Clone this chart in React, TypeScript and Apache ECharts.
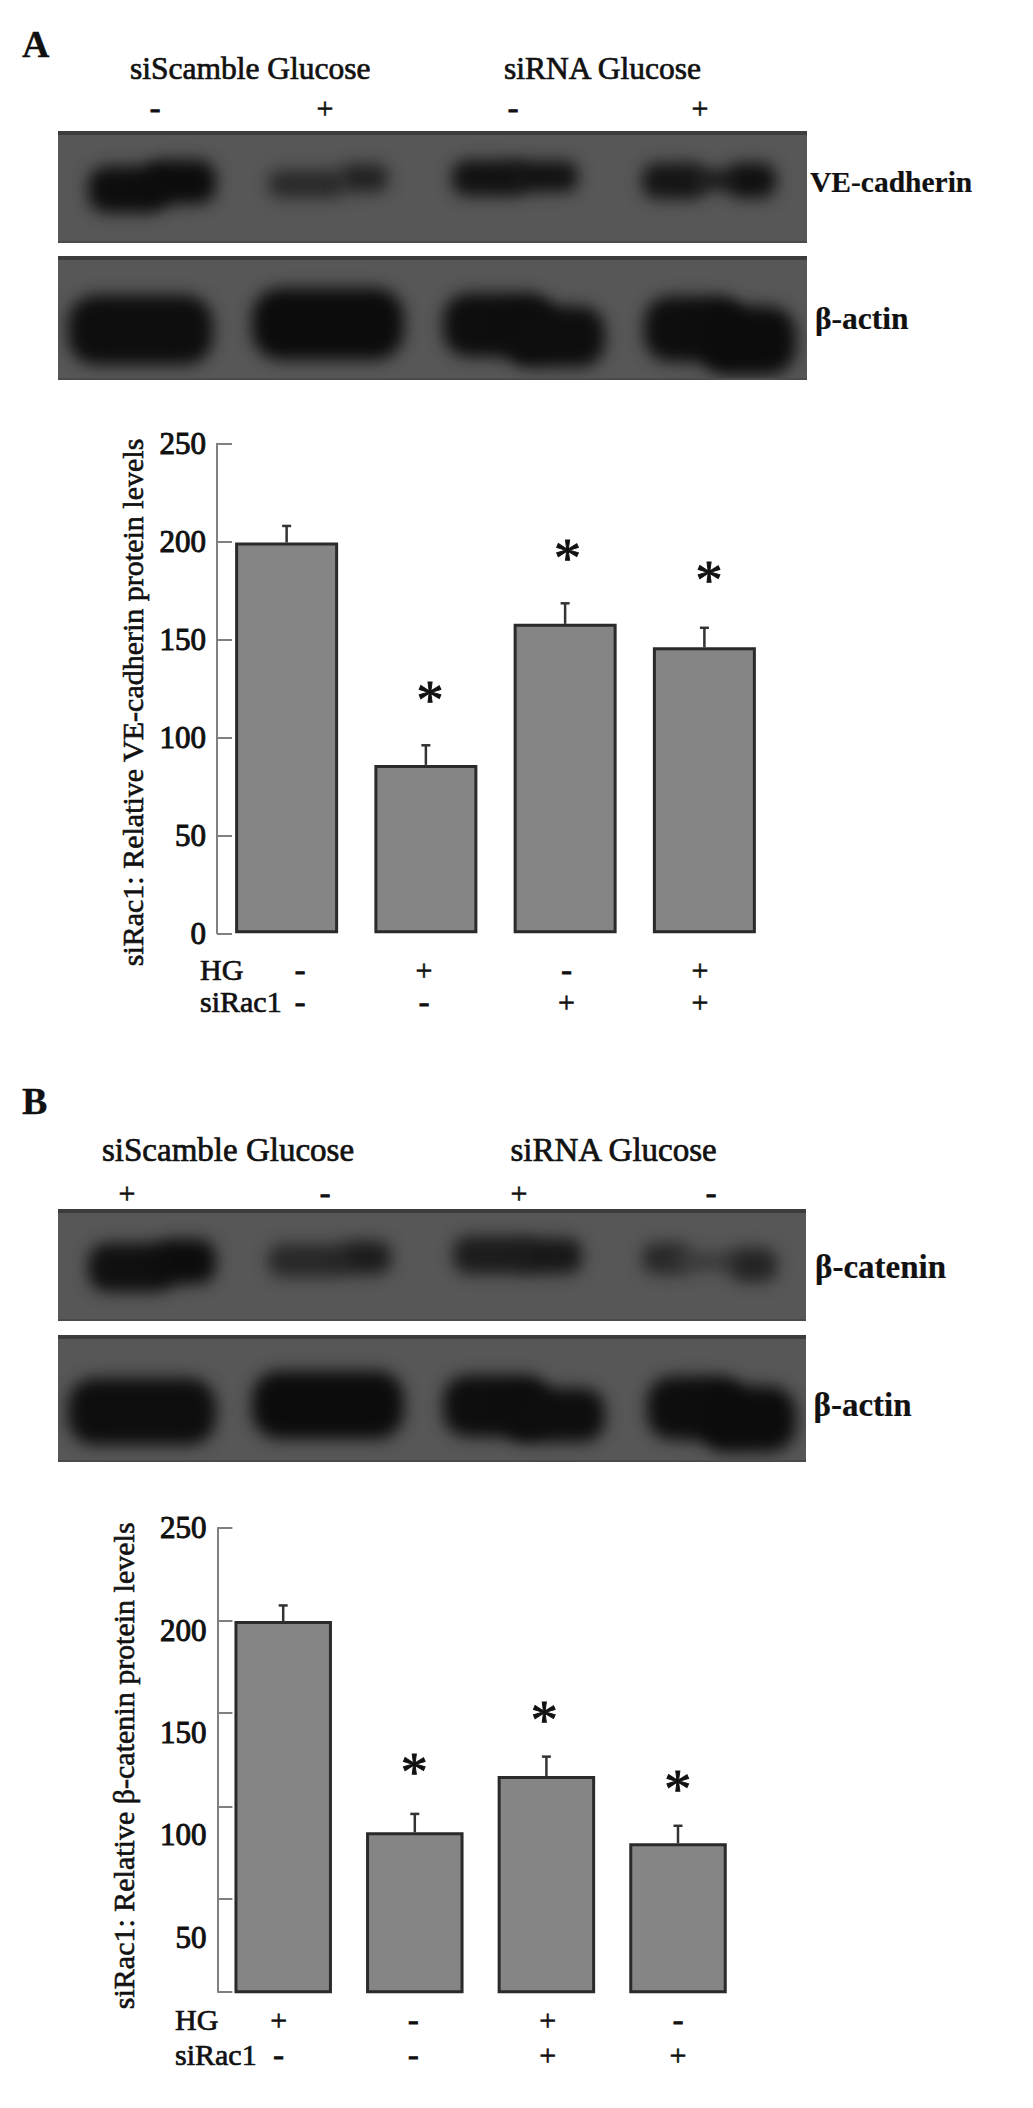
import React, { useEffect, useRef } from "react";
import * as echarts from "echarts";

const SERIF = "'Liberation Serif', serif";

// Panel A values
const categoriesA = ["HG- siRac1-", "HG+ siRac1-", "HG- siRac1+", "HG+ siRac1+"];
const meansA = [199.5, 86, 158, 146];
const upperA = [208, 96, 168.5, 156];
const tickLabelsA = [0, 50, 100, 150, 200, 250];
const hgSignsA = ["-", "+", "-", "+"];
const siRacSignsA = ["-", "-", "+", "+"];
const blotSignsA = ["-", "+", "-", "+"];

// Panel B values
const categoriesB = ["HG+ siRac1-", "HG- siRac1-", "HG+ siRac1+", "HG- siRac1+"];
const meansB = [204.5, 101.2, 128.7, 95.8];
const upperB = [212.1, 110.2, 138.2, 104.4];
const tickLabelsB = [50, 100, 150, 200, 250];
const tickMarksB = [23.3, 68.6, 113.8, 159.6, 204.5, 250];
const hgSignsB = ["+", "-", "+", "-"];
const siRacSignsB = ["-", "-", "+", "+"];
const blotSignsB = ["+", "-", "+", "-"];

// Layout of grids
const gridA = { left: 217, top: 443.7, width: 557, height: 489.6 };
const gridB = { left: 217.4, top: 1527.9, width: 526.4, height: 463.8 };

type Lobe = [number, number, number, number, string];
// Blot panels: frame [x, y, w, h] and band lobes [x0, y0, x1, y1, colour] in page pixels
const blotA1: { frame: number[]; lobes: Lobe[] } = {
  frame: [58, 131, 749, 112],
  lobes: [
    [88, 166, 168, 213, "#0e0e0e"],
    [145, 160, 216, 204, "#0c0c0c"],
    [268, 170, 345, 198, "#2a2a2a"],
    [340, 164, 388, 192, "#222222"],
    [452, 160, 525, 196, "#121212"],
    [510, 161, 578, 192, "#121212"],
    [642, 163, 705, 199, "#151515"],
    [690, 170, 740, 190, "#1a1a1a"],
    [728, 163, 776, 198, "#101010"],
  ],
};
const blotA2: { frame: number[]; lobes: Lobe[] } = {
  frame: [58, 256, 749, 124],
  lobes: [
    [68, 295, 213, 365, "#0e0e0e"],
    [252, 288, 404, 360, "#0c0c0c"],
    [443, 293, 555, 357, "#0e0e0e"],
    [505, 306, 605, 367, "#0e0e0e"],
    [644, 296, 745, 362, "#0e0e0e"],
    [700, 306, 796, 375, "#0c0c0c"],
  ],
};
const blotB1: { frame: number[]; lobes: Lobe[] } = {
  frame: [58, 1209, 748, 112],
  lobes: [
    [88, 1243, 175, 1292, "#101010"],
    [155, 1239, 216, 1284, "#0c0c0c"],
    [268, 1244, 350, 1277, "#282828"],
    [340, 1241, 391, 1274, "#1c1c1c"],
    [453, 1236, 535, 1274, "#1c1c1c"],
    [520, 1238, 582, 1274, "#181818"],
    [642, 1243, 690, 1274, "#282828"],
    [675, 1252, 740, 1271, "#3a3a3a"],
    [730, 1248, 777, 1282, "#242424"],
  ],
};
const blotB2: { frame: number[]; lobes: Lobe[] } = {
  frame: [58, 1335, 748, 127],
  lobes: [
    [68, 1378, 216, 1445, "#0e0e0e"],
    [252, 1371, 404, 1439, "#0c0c0c"],
    [443, 1375, 550, 1437, "#0e0e0e"],
    [505, 1388, 605, 1442, "#0e0e0e"],
    [647, 1376, 745, 1440, "#0e0e0e"],
    [700, 1386, 796, 1452, "#0c0c0c"],
  ],
};
const blots = [blotA1, blotA2, blotB1, blotB2];

function renderBlot(frame: number[], lobes: Lobe[]) {
  const [fx, fy, w, h] = frame;
  const c = document.createElement("canvas");
  c.width = w;
  c.height = h;
  const ctx = c.getContext("2d")!;
  ctx.fillStyle = "#575757";
  ctx.fillRect(0, 0, w, h);
  ctx.fillStyle = "#3c3c3c";
  ctx.fillRect(0, 0, w, 4);
  ctx.filter = "blur(8px)";
  lobes.forEach(([x0, y0, x1, y1, col]) => {
    ctx.fillStyle = col;
    ctx.beginPath();
    const bw = x1 - x0;
    const bh = y1 - y0;
    (ctx as any).roundRect(x0 - fx, y0 - fy, bw, bh, Math.min(bw, bh) * 0.4);
    ctx.fill();
  });
  ctx.filter = "none";
  ctx.fillStyle = "#4a4a4a";
  ctx.fillRect(0, h - 2, w, 2);
  return c.toDataURL("image/png");
}

const STROKE = 0.7;

function text(
  value: string,
  x: number,
  y: number,
  fontSize: number,
  align: string = "left",
  fontWeight: string = "normal",
  strokeWidth: number = STROKE
) {
  return {
    type: "text",
    x,
    y,
    z: 20,
    style: {
      text: value,
      fill: "#111",
      stroke: "#111",
      lineWidth: strokeWidth,
      fontFamily: SERIF,
      fontSize,
      fontWeight,
      align,
      verticalAlign: "middle",
      textAlign: align,
      textVerticalAlign: "middle",
    },
  };
}

function blotGraphics() {
  return blots.map(({ frame, lobes }) => ({
    type: "image",
    z: 1,
    style: {
      image: renderBlot(frame, lobes),
      x: frame[0],
      y: frame[1],
      width: frame[2],
      height: frame[3],
    },
  }));
}

function signRow(signs: string[], xs: number[], y: number) {
  return signs.map((s, i) => text(s, xs[i], y, s === "-" ? 32 : 30, "center", "normal", s === "-" ? 1 : 0.6));
}

function errorSeries(means: number[], upper: number[], axisIndex: number) {
  return {
    type: "custom",
    xAxisIndex: axisIndex,
    yAxisIndex: axisIndex,
    z: 5,
    clip: false,
    encode: { x: 0, y: [1, 2] },
    data: means.map((m, i) => [i, m, upper[i]]),
    renderItem(_p: any, api: any) {
      const base = api.coord([api.value(0), api.value(1)]);
      const top = api.coord([api.value(0), api.value(2)]);
      const style = { stroke: "#333", lineWidth: 2.5, fill: "none" };
      return {
        type: "group",
        children: [
          { type: "line", shape: { x1: top[0], y1: top[1], x2: base[0], y2: base[1] }, style },
          { type: "line", shape: { x1: top[0] - 4.5, y1: top[1], x2: top[0] + 4.5, y2: top[1] }, style },
        ],
      };
    },
  };
}

function barSeries(values: number[], width: number, axisIndex: number) {
  return {
    type: "bar",
    xAxisIndex: axisIndex,
    yAxisIndex: axisIndex,
    data: values,
    barWidth: width,
    z: 4,
    itemStyle: { color: "#858585", borderColor: "#2a2a2a", borderWidth: 3 },
  };
}

function xAxis(categories: string[], gridIndex: number) {
  return {
    type: "category",
    gridIndex,
    data: categories,
    axisLine: { show: false },
    axisTick: { show: false },
    axisLabel: { show: false },
  };
}

const axisLine = { show: true, lineStyle: { color: "#808080", width: 2 } };
const axisTick = (extra: any = {}) => ({
  show: true,
  inside: true,
  length: 15,
  lineStyle: { color: "#808080", width: 2 },
  ...extra,
});
const axisLabelStyle = {
  color: "#111",
  fontFamily: SERIF,
  fontSize: 31,
  margin: 11,
  fontWeight: "normal",
  textBorderColor: "#111",
  textBorderWidth: 1,
};
const nameStyle = (paddingRight: number) => ({
  color: "#111",
  fontFamily: SERIF,
  fontSize: 30,
  textBorderColor: "#111",
  textBorderWidth: 0.6,
  padding: [0, paddingRight, 0, 0],
});

export default function App() {
  const ref = useRef<HTMLDivElement>(null);
  useEffect(() => {
    document.body.style.margin = "0";
    const chart = echarts.init(ref.current!, undefined, { renderer: "svg" });
    chart.setOption({
      animation: false,
      backgroundColor: "#fff",
      grid: [
        { ...gridA, containLabel: false },
        { ...gridB, containLabel: false },
      ],
      xAxis: [xAxis(categoriesA, 0), xAxis(categoriesB, 1)],
      yAxis: [
        {
          type: "value",
          gridIndex: 0,
          min: 0,
          max: 250,
          interval: 50,
          splitLine: { show: false },
          axisLine,
          axisTick: axisTick(),
          axisLabel: { ...axisLabelStyle, customValues: tickLabelsA },
          name: "siRac1: Relative VE-cadherin protein levels",
          nameLocation: "middle",
          nameRotate: 90,
          nameGap: 67,
          nameTextStyle: nameStyle(28),
        },
        {
          type: "value",
          gridIndex: 1,
          min: 23.3,
          max: 250,
          splitLine: { show: false },
          axisLine,
          axisTick: axisTick({ customValues: tickMarksB }),
          axisLabel: { ...axisLabelStyle, customValues: tickLabelsB },
          name: "siRac1: Relative β-catenin protein levels",
          nameLocation: "middle",
          nameRotate: 90,
          nameGap: 79,
          nameTextStyle: nameStyle(12),
        },
      ],
      series: [
        barSeries(meansA, 103, 0),
        errorSeries(meansA, upperA, 0),
        barSeries(meansB, 97.5, 1),
        errorSeries(meansB, upperB, 1),
      ],
      graphic: {
        elements: [
          ...blotGraphics(),
          text("A", 22, 44, 38, "left", "bold", 0.3),
          text("siScamble Glucose", 130, 68, 31.5),
          text("siRNA Glucose", 504, 68, 31.5),
          ...signRow(blotSignsA, [155, 325, 513, 700], 107),
          text("VE-cadherin", 810, 182, 29.5, "left", "bold", 0.2),
          text("β-actin", 815, 318, 31.5, "left", "bold", 0.2),
          text("HG", 200, 969, 30),
          text("siRac1", 200, 1001, 30),
          ...signRow(hgSignsA, [300, 424, 566.5, 700], 969),
          ...signRow(siRacSignsA, [300, 424, 566.5, 700], 1001),
          text("*", 430, 700, 54, "center", "normal", 1),
          text("*", 567.4, 558, 54, "center", "normal", 1),
          text("*", 709, 580, 54, "center", "normal", 1),

          text("B", 22, 1101, 38, "left", "bold", 0.3),
          text("siScamble Glucose", 102, 1150, 33),
          text("siRNA Glucose", 510.5, 1150, 33),
          ...signRow(blotSignsB, [127, 325, 519, 711], 1192),
          text("β-catenin", 815, 1267, 33, "left", "bold", 0.2),
          text("β-actin", 813.5, 1405, 33, "left", "bold", 0.2),
          text("HG", 175, 2019, 30),
          text("siRac1", 175, 2054, 30),
          ...signRow(hgSignsB, [278.6, 413.4, 547.8, 678], 2019),
          ...signRow(siRacSignsB, [278.6, 413.4, 547.8, 678], 2054),
          text("*", 414.3, 1772, 54, "center", "normal", 1),
          text("*", 544.2, 1720, 54, "center", "normal", 1),
          text("*", 677.7, 1789, 54, "center", "normal", 1),
        ],
      },
    });
    return () => chart.dispose();
  }, []);
  return <div ref={ref} style={{ position: "absolute", left: 0, top: 0, width: 1033, height: 2108 }} />;
}
